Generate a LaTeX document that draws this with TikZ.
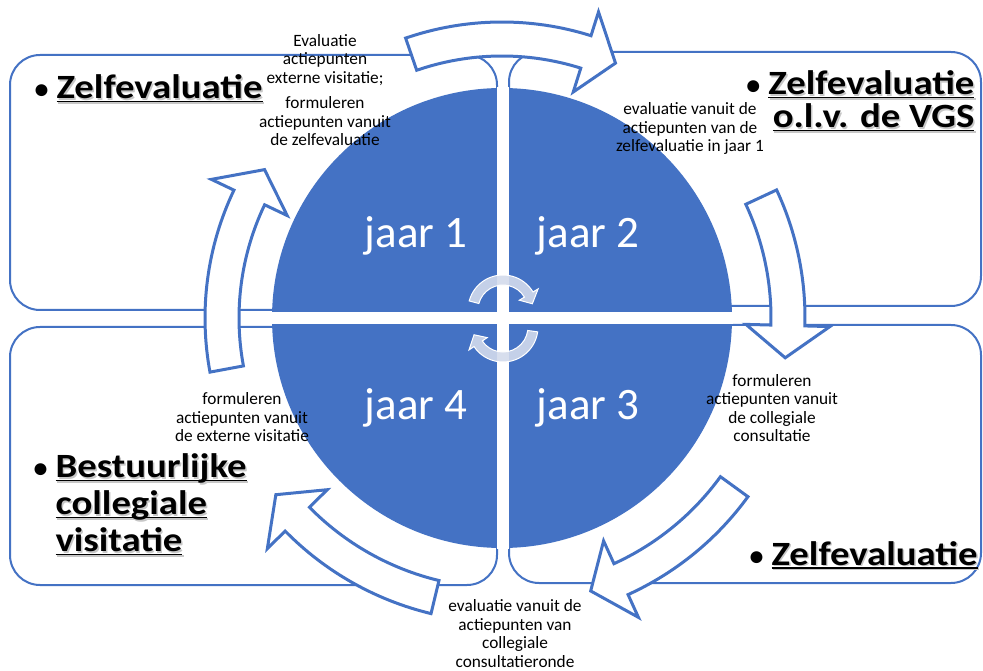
\documentclass[tikz,border=0pt]{standalone}
\usepackage{fontspec}
\usepackage{graphicx}
\setmainfont{Carlito}
\usetikzlibrary{arrows}
\definecolor{office}{HTML}{4472C4}
\definecolor{swirl}{HTML}{D3DBEC}
% curved block arrow round a centre, running clockwise:
% [style]{centre}{radius}{from angle}{tip angle}{half width}{head half width}{head angle}
\newcommand{\bendarrow}[8][]{%
  \draw[shift={#2},#1] (#4:#3+#6) arc[start angle=#4, end angle=#5+#8, radius=#3+#6]
    -- (#5+#8:#3+#7) -- (#5:#3) -- (#5+#8:#3-#7) -- (#5+#8:#3-#6)
    arc[start angle=#5+#8, end angle=#4, radius=#3-#6] -- cycle;}
% underlined, slightly widened heading word with a soft grey shadow
\newcommand{\headline}[1]{\scalebox{1.14}[1]{\setbox0\hbox{#1}%
  \rlap{\kern1.3pt\raisebox{-1.3pt}{\color{black!22}\rlap{\rule[-3.5pt]{\wd0}{1.7pt}}#1}}%
  \rlap{\rule[-3.5pt]{\wd0}{1.7pt}}\box0}}
\newcommand{\bull}{\llap{{\fontsize{28}{28}\selectfont\textbullet}\hspace{8pt}}}
\tikzset{
  quad/.style={draw=office, line width=2pt, fill=white, rounded corners=30pt},
  cyc/.style={draw=office, line width=3pt, fill=white, line join=miter},
  swirlarrow/.style={draw=white, line width=1pt, fill=swirl, fill opacity=0.9},
  year/.style={text=white, font=\fontsize{45}{50}\selectfont, anchor=base},
  stepnote/.style={align=center, font=\fontsize{17.3}{18.5}\selectfont, anchor=base},
  heading/.style={font=\bfseries\fontsize{34}{37}\selectfont, anchor=base west, align=left}
}
\begin{document}
\begin{tikzpicture}[x=1pt,y=1pt]
\useasboundingbox (0,0) rectangle (983,670);
% four quarter boxes
\draw[quad] (10,360) rectangle (497,615);
\draw[quad] (509,364) rectangle (981,618);
\draw[quad] (10,85) rectangle (497,343);
\draw[quad] (509,87) rectangle (981,345);
% the year disc, cut in four
\fill[office] (502,352) circle[radius=230];
\begin{scope}
  \clip (502,352) circle[radius=231];
  \fill[white] (497,100) rectangle (509,600);
  \fill[white] (250,345.5) rectangle (750,358);
\end{scope}
% small swirl in the middle
\bendarrow[swirlarrow]{(503,360)}{30}{165}{12}{5}{11}{19}
\bendarrow[swirlarrow]{(503,343)}{30}{-8}{-165}{5}{11}{19}
% steps of the cycle
\foreach \from/\to/\r in {109/66/279, 25/-8/286, -36/-72/287, -103.5/-142/287, 190.5/148/280}
  \bendarrow[cyc]{(502,352)}{\r}{\from}{\to}{17}{42}{6.5};

\node[year] (y1) at (416,422) {jaar 1};
\node[year] (y2) at (588,422) {jaar 2};
\node[year] (y3) at (588,250) {jaar 3};
\node[year] (y4) at (416,250) {jaar 4};

% multi-line nodes sit on the baseline of their last line
\node[heading] (h1) at (53,571) {\bull\headline{Zelfevaluatie}};
\node[heading, anchor=base east, align=right, font=\bfseries\fontsize{34}{33}\selectfont] (h2) at (978,542)
  {\bull\headline{Zelfevaluatie}\\\headline{o.l.v. de VGS}};
\node[heading] (h3) at (52,118) {\bull\headline{Bestuurlijke}\\\headline{collegiale}\\\headline{visitatie}};
\node[heading] (h4) at (768,105) {\bull\headline{Zelfevaluatie}};

\node[stepnote] (s1) at (325,524) {Evaluatie\\actiepunten\\externe visitatie;\\[7pt]formuleren\\actiepunten vanuit\\de zelfevaluatie};
\node[stepnote] (s2) at (690,518) {evaluatie vanuit de\\actiepunten van de\\zelfevaluatie in jaar 1};
\node[stepnote] (s3) at (772,228) {formuleren\\actiepunten vanuit\\de collegiale\\consultatie};
\node[stepnote] (s4) at (515,3) {evaluatie vanuit de\\actiepunten van\\collegiale\\consultatieronde};
\node[stepnote] (s5) at (242,228) {formuleren\\actiepunten vanuit\\de externe visitatie};
\end{tikzpicture}
\end{document}
